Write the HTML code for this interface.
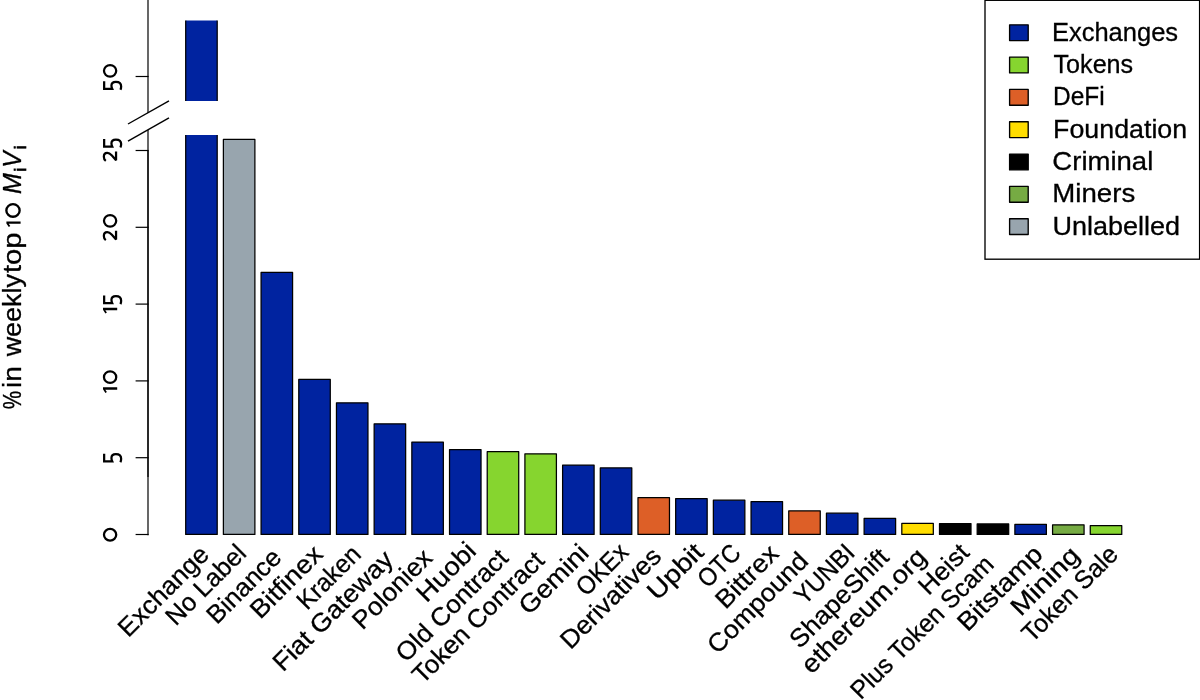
<!DOCTYPE html>
<html><head><meta charset="utf-8"><title>chart</title>
<style>
html,body{margin:0;padding:0;background:#fff;}
body{width:1200px;height:700px;overflow:hidden;}
svg{display:block;will-change:transform;}
text{font-family:"Liberation Sans",sans-serif;fill:#000;stroke:#000;stroke-width:0.3px;}
</style></head><body>
<svg width="1200" height="700" viewBox="0 0 1200 700">
<defs><clipPath id="plotclip"><rect x="0" y="20.5" width="1200" height="680"/></clipPath></defs>
<rect width="1200" height="700" fill="#fff"/>
<g clip-path="url(#plotclip)" stroke="#000" stroke-width="1.25" stroke-linejoin="round">
<rect x="185.70" y="-10.00" width="31.50" height="544.40" fill="#0023A0"/>
<rect x="223.39" y="139.42" width="31.50" height="394.98" fill="#98A5AE"/>
<rect x="261.08" y="272.43" width="31.50" height="261.97" fill="#0023A0"/>
<rect x="298.77" y="379.43" width="31.50" height="154.97" fill="#0023A0"/>
<rect x="336.46" y="402.83" width="31.50" height="131.57" fill="#0023A0"/>
<rect x="374.15" y="423.83" width="31.50" height="110.57" fill="#0023A0"/>
<rect x="411.84" y="442.03" width="31.50" height="92.37" fill="#0023A0"/>
<rect x="449.53" y="449.62" width="31.50" height="84.77" fill="#0023A0"/>
<rect x="487.22" y="451.53" width="31.50" height="82.87" fill="#86D52F"/>
<rect x="524.91" y="453.83" width="31.50" height="80.57" fill="#86D52F"/>
<rect x="562.60" y="465.12" width="31.50" height="69.27" fill="#0023A0"/>
<rect x="600.29" y="467.93" width="31.50" height="66.47" fill="#0023A0"/>
<rect x="637.98" y="497.62" width="31.50" height="36.77" fill="#DD5F27"/>
<rect x="675.67" y="498.62" width="31.50" height="35.77" fill="#0023A0"/>
<rect x="713.36" y="500.23" width="31.50" height="34.17" fill="#0023A0"/>
<rect x="751.05" y="501.62" width="31.50" height="32.77" fill="#0023A0"/>
<rect x="788.74" y="510.83" width="31.50" height="23.57" fill="#DD5F27"/>
<rect x="826.43" y="513.23" width="31.50" height="21.17" fill="#0023A0"/>
<rect x="864.12" y="518.43" width="31.50" height="15.97" fill="#0023A0"/>
<rect x="901.81" y="523.33" width="31.50" height="11.07" fill="#FFDD00"/>
<rect x="939.50" y="523.52" width="31.50" height="10.88" fill="#000000"/>
<rect x="977.19" y="523.98" width="31.50" height="10.42" fill="#000000"/>
<rect x="1014.88" y="524.43" width="31.50" height="9.97" fill="#0023A0"/>
<rect x="1052.57" y="524.83" width="31.50" height="9.57" fill="#76AB43"/>
<rect x="1090.26" y="525.62" width="31.50" height="8.77" fill="#86D52F"/>
</g>
<rect x="170" y="101" width="60" height="34" fill="#fff"/>
<g stroke="#000" stroke-width="1.2">
<line x1="148" y1="0" x2="148" y2="477"/>
<line x1="148" y1="150.5" x2="148" y2="535.15"/>
<line x1="135.6" y1="76.5" x2="148.6" y2="76.5"/>
<line x1="135.6" y1="150.5" x2="148.6" y2="150.5"/>
<line x1="135.6" y1="227.3" x2="148.6" y2="227.3"/>
<line x1="135.6" y1="304.1" x2="148.6" y2="304.1"/>
<line x1="135.6" y1="380.9" x2="148.6" y2="380.9"/>
<line x1="135.6" y1="457.7" x2="148.6" y2="457.7"/>
<line x1="135.6" y1="534.5" x2="148.6" y2="534.5"/>
<polygon points="128,124 169,100.8 169,117.8 128,141.2" fill="#fff" stroke="none"/>
<line x1="128" y1="124" x2="169" y2="100.8" stroke-width="1.4"/>
<line x1="128" y1="141.2" x2="169" y2="117.8" stroke-width="1.4"/>
</g>
<g fill="none" stroke="#000" stroke-width="2.25" stroke-linejoin="miter" stroke-miterlimit="2.5">
<g transform="translate(117.2,90.0) rotate(-90)"><path transform="translate(0.00,0) scale(1.0)" d="M8.7,-13.05 L1.15,-13.05 L1.15,-5.0 C2.4,-5.6 3.5,-5.75 4.5,-5.75 C7.0,-5.75 8.2,-3.9 8.2,-1.3 C8.2,2.2 6.2,3.95 3.6,3.95 C2.3,3.95 1.1,3.7 0.2,3.2"/><ellipse cx="19.15" cy="-7.10" rx="5.83" ry="6.13"/></g>
<g transform="translate(117.2,161.8) rotate(-90)"><path transform="translate(0.00,0) scale(1.0)" d="M0.9,-11.4 C1.9,-12.8 3.5,-13.35 5.1,-13.35 C7.6,-13.35 9.0,-12.0 9.0,-10.0 C9.0,-8.3 8.1,-7.0 6.2,-5.3 L1.6,-1.15 L10.3,-1.15"/><path transform="translate(14.10,0) scale(1.0)" d="M8.7,-13.05 L1.15,-13.05 L1.15,-5.0 C2.4,-5.6 3.5,-5.75 4.5,-5.75 C7.0,-5.75 8.2,-3.9 8.2,-1.3 C8.2,2.2 6.2,3.95 3.6,3.95 C2.3,3.95 1.1,3.7 0.2,3.2"/></g>
<g transform="translate(117.2,241.0) rotate(-90)"><path transform="translate(0.00,0) scale(1.0)" d="M0.9,-11.4 C1.9,-12.8 3.5,-13.35 5.1,-13.35 C7.6,-13.35 9.0,-12.0 9.0,-10.0 C9.0,-8.3 8.1,-7.0 6.2,-5.3 L1.6,-1.15 L10.3,-1.15"/><ellipse cx="20.15" cy="-7.10" rx="5.83" ry="6.13"/></g>
<g transform="translate(117.2,313.5) rotate(-90)"><path transform="translate(0.00,0) scale(1.0)" fill="#000" stroke="none" d="M3.35,0 L5.65,0 L5.65,-14.2 L3.7,-14.2 L0.1,-11.8 L1.0,-10.3 L3.35,-11.9 Z"/><path transform="translate(9.20,0) scale(1.0)" d="M8.7,-13.05 L1.15,-13.05 L1.15,-5.0 C2.4,-5.6 3.5,-5.75 4.5,-5.75 C7.0,-5.75 8.2,-3.9 8.2,-1.3 C8.2,2.2 6.2,3.95 3.6,3.95 C2.3,3.95 1.1,3.7 0.2,3.2"/></g>
<g transform="translate(117.2,393.0) rotate(-90)"><path transform="translate(0.00,0) scale(1.0)" fill="#000" stroke="none" d="M3.35,0 L5.65,0 L5.65,-14.2 L3.7,-14.2 L0.1,-11.8 L1.0,-10.3 L3.35,-11.9 Z"/><ellipse cx="15.85" cy="-7.10" rx="5.83" ry="6.13"/></g>
<g transform="translate(117.2,462.4) rotate(-90)"><path transform="translate(0.00,0) scale(1.0)" d="M8.7,-13.05 L1.15,-13.05 L1.15,-5.0 C2.4,-5.6 3.5,-5.75 4.5,-5.75 C7.0,-5.75 8.2,-3.9 8.2,-1.3 C8.2,2.2 6.2,3.95 3.6,3.95 C2.3,3.95 1.1,3.7 0.2,3.2"/></g>
<g transform="translate(117.2,541.7) rotate(-90)"><ellipse cx="6.95" cy="-7.10" rx="5.83" ry="6.13"/></g>
<g transform="translate(20.6,227.1) rotate(-90)" stroke-width="2.35"><path transform="translate(0.00,0) scale(1.0)" fill="#000" stroke="none" d="M3.35,0 L5.65,0 L5.65,-14.2 L3.7,-14.2 L0.1,-11.8 L1.0,-10.3 L3.35,-11.9 Z"/><ellipse cx="16.64" cy="-7.61" rx="6.32" ry="6.64"/></g>
</g>
<g>
<text transform="translate(20.6,409.29) rotate(-90)" font-size="25.5" textLength="18.45" lengthAdjust="spacingAndGlyphs">%</text>
<text transform="translate(20.6,388.02) rotate(-90)" font-size="25.5" textLength="21.96" lengthAdjust="spacingAndGlyphs">in</text>
<text transform="translate(20.6,356.32) rotate(-90)" font-size="25.5" textLength="82.23" lengthAdjust="spacingAndGlyphs">weekly</text>
<text transform="translate(20.6,273.07) rotate(-90)" font-size="25.5" textLength="40.72" lengthAdjust="spacingAndGlyphs">top</text>
<text transform="translate(20.6,194.05) rotate(-90)" font-size="25.5" textLength="20.74" lengthAdjust="spacingAndGlyphs" font-style="italic">M</text>
<text transform="translate(20.6,167.87) rotate(-90)" font-size="25.5" textLength="16.40" lengthAdjust="spacingAndGlyphs" font-style="italic">V</text>
<text transform="translate(25.700000000000003,171.6) rotate(-90)" font-size="16.5" style="stroke-width:0.7px">i</text>
<text transform="translate(25.700000000000003,149.2) rotate(-90)" font-size="16.5" style="stroke-width:0.7px">i</text>
<text transform="translate(210.59,555.93) rotate(-45)" text-anchor="end" font-size="25.5" textLength="116.30" lengthAdjust="spacingAndGlyphs">Exchange</text>
<text transform="translate(247.82,554.69) rotate(-45)" text-anchor="end" font-size="25.5" textLength="101.90" lengthAdjust="spacingAndGlyphs">No Label</text>
<text transform="translate(283.00,559.00) rotate(-45)" text-anchor="end" font-size="25.5" textLength="93.80" lengthAdjust="spacingAndGlyphs">Binance</text>
<text transform="translate(324.36,555.82) rotate(-45)" text-anchor="end" font-size="25.5" textLength="90.66" lengthAdjust="spacingAndGlyphs">Bitfinex</text>
<text transform="translate(362.43,555.66) rotate(-45)" text-anchor="end" font-size="25.5" textLength="78.44" lengthAdjust="spacingAndGlyphs">Kraken</text>
<text transform="translate(394.68,561.01) rotate(-45)" text-anchor="end" font-size="25.5" textLength="157.82" lengthAdjust="spacingAndGlyphs">Fiat Gateway</text>
<text transform="translate(433.82,559.46) rotate(-45)" text-anchor="end" font-size="25.5" textLength="100.84" lengthAdjust="spacingAndGlyphs">Poloniex</text>
<text transform="translate(477.67,552.44) rotate(-45)" text-anchor="end" font-size="25.5" textLength="72.30" lengthAdjust="spacingAndGlyphs">Huobi</text>
<text transform="translate(509.65,559.67) rotate(-45)" text-anchor="end" font-size="25.5" textLength="146.53" lengthAdjust="spacingAndGlyphs">Old Contract</text>
<text transform="translate(545.77,561.89) rotate(-45)" text-anchor="end" font-size="25.5" textLength="174.26" lengthAdjust="spacingAndGlyphs">Token Contract</text>
<text transform="translate(590.43,554.53) rotate(-45)" text-anchor="end" font-size="25.5" textLength="87.00" lengthAdjust="spacingAndGlyphs">Gemini</text>
<text transform="translate(629.84,553.71) rotate(-45)" text-anchor="end" font-size="25.5" textLength="61.65" lengthAdjust="spacingAndGlyphs">OKEx</text>
<text transform="translate(662.72,557.93) rotate(-45)" text-anchor="end" font-size="25.5" textLength="130.55" lengthAdjust="spacingAndGlyphs">Derivatives</text>
<text transform="translate(705.10,553.72) rotate(-45)" text-anchor="end" font-size="25.5" textLength="67.67" lengthAdjust="spacingAndGlyphs">Upbit</text>
<text transform="translate(742.37,554.51) rotate(-45)" text-anchor="end" font-size="25.5" textLength="48.94" lengthAdjust="spacingAndGlyphs">OTC</text>
<text transform="translate(780.25,555.17) rotate(-45)" text-anchor="end" font-size="25.5" textLength="77.58" lengthAdjust="spacingAndGlyphs">Bittrex</text>
<text transform="translate(809.69,562.63) rotate(-45)" text-anchor="end" font-size="25.5" textLength="130.55" lengthAdjust="spacingAndGlyphs">Compound</text>
<text transform="translate(856.33,554.17) rotate(-45)" text-anchor="end" font-size="25.5" textLength="73.39" lengthAdjust="spacingAndGlyphs">YUNBI</text>
<text transform="translate(890.41,558.86) rotate(-45)" text-anchor="end" font-size="25.5" textLength="128.07" lengthAdjust="spacingAndGlyphs">ShapeShift</text>
<text transform="translate(927.98,558.53) rotate(-45)" text-anchor="end" font-size="25.5" textLength="164.74" lengthAdjust="spacingAndGlyphs">ethereum.org</text>
<text transform="translate(970.53,554.23) rotate(-45)" text-anchor="end" font-size="25.5" textLength="59.47" lengthAdjust="spacingAndGlyphs">Heist</text>
<text transform="translate(995.39,565.95) rotate(-45)" text-anchor="end" font-size="25.5" textLength="190.33" lengthAdjust="spacingAndGlyphs">Plus Token Scam</text>
<text transform="translate(1044.19,555.90) rotate(-45)" text-anchor="end" font-size="25.5" textLength="108.45" lengthAdjust="spacingAndGlyphs">Bitstamp</text>
<text transform="translate(1081.16,556.81) rotate(-45)" text-anchor="end" font-size="25.5" textLength="85.52" lengthAdjust="spacingAndGlyphs">Mining</text>
<text transform="translate(1119.65,555.93) rotate(-45)" text-anchor="end" font-size="25.5" textLength="123.88" lengthAdjust="spacingAndGlyphs">Token Sale</text>
</g>
<rect x="985" y="0.3" width="214.6" height="258.9" fill="#fff" stroke="#000" stroke-width="1.35"/>
<g opacity="0.999">
<rect x="1009.6" y="24.80" width="18.6" height="15.8" fill="#0023A0" stroke="#000" stroke-width="1.35" stroke-linejoin="round"/>
<text x="1051.92" y="40.60" font-size="25.5" textLength="126.22" lengthAdjust="spacingAndGlyphs">Exchanges</text>
<rect x="1009.6" y="57.12" width="18.6" height="15.8" fill="#86D52F" stroke="#000" stroke-width="1.35" stroke-linejoin="round"/>
<text x="1053.53" y="72.92" font-size="25.5" textLength="79.65" lengthAdjust="spacingAndGlyphs">Tokens</text>
<rect x="1009.6" y="89.44" width="18.6" height="15.8" fill="#DD5F27" stroke="#000" stroke-width="1.35" stroke-linejoin="round"/>
<text x="1052.99" y="105.24" font-size="25.5" textLength="51.63" lengthAdjust="spacingAndGlyphs">DeFi</text>
<rect x="1009.6" y="121.76" width="18.6" height="15.8" fill="#FFDD00" stroke="#000" stroke-width="1.35" stroke-linejoin="round"/>
<text x="1053.05" y="137.56" font-size="25.5" textLength="134.15" lengthAdjust="spacingAndGlyphs">Foundation</text>
<rect x="1009.6" y="154.08" width="18.6" height="15.8" fill="#000000" stroke="#000" stroke-width="1.35" stroke-linejoin="round"/>
<text x="1052.38" y="169.88" font-size="25.5" textLength="100.88" lengthAdjust="spacingAndGlyphs">Criminal</text>
<rect x="1009.6" y="186.40" width="18.6" height="15.8" fill="#76AB43" stroke="#000" stroke-width="1.35" stroke-linejoin="round"/>
<text x="1052.34" y="202.20" font-size="25.5" textLength="82.87" lengthAdjust="spacingAndGlyphs">Miners</text>
<rect x="1009.6" y="218.72" width="18.6" height="15.8" fill="#98A5AE" stroke="#000" stroke-width="1.35" stroke-linejoin="round"/>
<text x="1052.56" y="234.52" font-size="25.5" textLength="127.56" lengthAdjust="spacingAndGlyphs">Unlabelled</text>
</g>
</svg>
</body></html>
